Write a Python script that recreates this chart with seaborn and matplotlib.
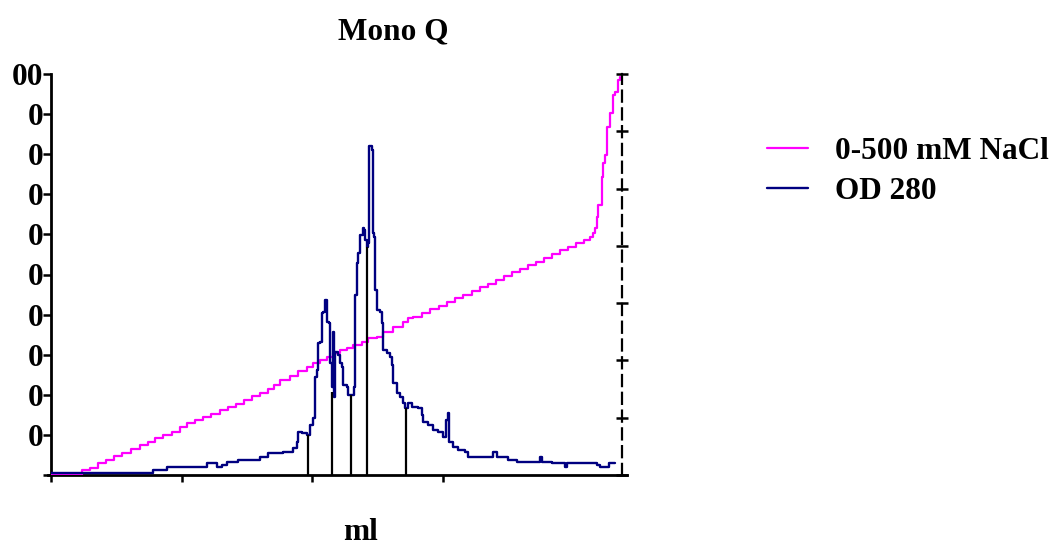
import matplotlib
matplotlib.use("Agg")
import matplotlib.pyplot as plt
import seaborn as sns
import pandas as pd

# ---- data (ml, percent of full scale) ----
nacl_ml = [0.00, 2.38, 2.99, 3.60, 4.21, 4.83, 5.44, 6.13, 6.82, 7.43, 7.97, 8.58, 9.27, 9.89,
           10.42, 11.03, 11.65, 12.26, 12.95, 13.56, 14.18, 14.79, 15.40, 16.02, 16.63, 17.09,
           17.55, 18.31, 18.93, 19.62, 20.08, 20.61, 21.15, 21.61, 22.15, 22.68, 23.14, 23.83,
           24.29, 24.98, 25.44, 26.21, 26.97, 27.36, 27.74, 28.43, 29.04, 29.73, 30.34, 30.96,
           31.57, 32.26, 32.87, 33.49, 34.10, 34.71, 35.33, 35.94, 36.55, 37.16, 37.78, 38.39,
           39.00, 39.62, 40.23, 40.84, 41.30, 41.53, 41.69, 41.84, 41.92, 42.22, 42.30, 42.45,
           42.61, 42.84, 43.07, 43.22, 43.45, 43.60]
nacl_val = [0.0, 1.2, 1.7, 3.0, 3.7, 4.7, 5.5, 6.5, 7.5, 8.2, 9.2, 10.0, 10.7, 12.0,
            13.0, 13.7, 14.5, 15.2, 16.2, 17.0, 17.7, 18.7, 19.7, 20.4, 21.4, 22.4,
            23.7, 24.7, 25.9, 26.9, 27.9, 28.7, 29.4, 30.4, 31.2, 31.7, 32.4, 33.2,
            34.2, 34.4, 35.7, 36.9, 38.2, 39.2, 39.4, 40.4, 41.4, 42.1, 43.1, 44.1,
            44.9, 45.9, 46.9, 47.6, 48.6, 49.6, 50.6, 51.4, 52.4, 53.1, 54.1, 55.1,
            56.1, 56.9, 57.9, 58.6, 59.4, 60.3, 61.6, 64.3, 67.3, 74.3, 77.8, 79.8,
            86.8, 90.3, 94.7, 95.5, 98.5, 99.3]

od_ml = [0.00, 7.82, 8.89, 11.95, 12.72, 13.10, 13.49, 14.33, 16.02, 16.63, 17.78, 18.54,
         18.85, 18.93, 19.23, 19.62, 19.85, 20.08, 20.23, 20.38, 20.46, 20.61, 20.77, 20.84,
         21.00, 21.15, 21.30, 21.38, 21.53, 21.61, 21.69, 21.76, 21.99, 22.15, 22.30, 22.38,
         22.68, 22.76, 23.22, 23.30, 23.45, 23.52, 23.68, 23.91, 23.98, 24.06, 24.21, 24.29,
         24.37, 24.60, 24.67, 24.75, 24.83, 24.98, 25.21, 25.36, 25.44, 25.75, 25.98, 26.13,
         26.21, 26.51, 26.74, 26.97, 27.13, 27.36, 27.66, 28.12, 28.43, 28.51, 28.89, 29.27,
         29.66, 30.04, 30.27, 30.42, 30.50, 30.80, 31.19, 31.72, 31.95, 33.87, 34.18, 35.02,
         35.71, 37.47, 37.62, 38.39, 39.39, 39.54, 41.84, 42.07, 42.76, 43.22]
od_val = [0.5, 1.2, 2.0, 3.0, 2.0, 2.5, 3.2, 3.7, 4.5, 5.5, 5.7, 6.7,
          8.2, 10.7, 10.5, 10.0, 12.5, 14.2, 24.4, 26.2, 32.9, 33.2, 40.4, 40.6,
          43.6, 38.2, 37.9, 27.9, 21.9, 35.7, 19.5, 30.7, 29.9, 27.9, 26.9, 22.4,
          21.9, 20.0, 21.9, 44.9, 52.9, 55.4, 59.9, 61.6, 61.1, 58.6, 56.9, 57.9,
          82.0, 81.0, 60.3, 59.4, 46.1, 41.1, 40.6, 37.9, 31.2, 30.4, 29.4, 27.4,
          22.9, 20.4, 19.5, 18.0, 16.7, 18.0, 17.0, 16.7, 15.0, 13.2, 12.5, 11.2,
          10.7, 9.5, 13.7, 15.5, 8.2, 7.0, 6.2, 5.7, 4.5, 5.7, 4.5, 3.7,
          3.2, 4.5, 3.2, 3.0, 2.0, 3.0, 2.5, 2.0, 3.0, 3.0]

frac_ml = [19.69, 21.53, 22.97, 24.21, 27.20]
frac_top = [10.0, 20.7, 20.0, 56.9, 16.7]

x_ticks = [0, 10, 20, 30]
y_ticks = [0, 10, 20, 30, 40, 50, 60, 70, 80, 90, 100]
y_labels = ["", "0", "0", "0", "0", "0", "0", "0", "0", "0", "00"]
right_ticks = [0, 1, 2, 3, 4, 5, 6, 7]

labels = ["0-500 mM NaCl", "OD 280"]
colors = ["#FF00FF", "#000080"]

sns.set_style("white")
plt.rcParams["font.family"] = ["Liberation Serif", "DejaVu Serif"]
plt.rcParams["font.weight"] = "bold"
for k in ["text.color", "axes.labelcolor", "xtick.color", "ytick.color", "axes.edgecolor"]:
    plt.rcParams[k] = "black"
FS = 22.5

fig = plt.figure(figsize=(10.55, 5.47), dpi=100)
ax = fig.add_axes([51 / 1055, 1 - 475 / 547, (622 - 51) / 1055, (475 - 74) / 547])

df_n = pd.DataFrame({"ml": nacl_ml, "v": nacl_val})
df_o = pd.DataFrame({"ml": od_ml, "v": od_val})
sns.lineplot(data=df_n, x="ml", y="v", ax=ax, color=colors[0], lw=1.6,
             drawstyle="steps-post", estimator=None, label=labels[0], zorder=3)
sns.lineplot(data=df_o, x="ml", y="v", ax=ax, color=colors[1], lw=1.7,
             drawstyle="steps-post", estimator=None, label=labels[1], zorder=4)
ax.vlines(frac_ml, 0, frac_top, color="black", lw=1.6, zorder=5)

ax.set_xlim(0, 43.75)
ax.set_ylim(0, 100)
ax.set_xticks(x_ticks)
ax.set_xticklabels([])
ax.set_yticks(y_ticks)
ax.set_yticklabels(y_labels, fontsize=FS, fontweight="bold", color="black")
ax.set_xlabel("")
ax.set_ylabel("")
ax.tick_params(axis="both", direction="out", length=5, width=1.8, color="black",
               labelcolor="black", pad=0, left=True, bottom=True)
ax.tick_params(axis="y", length=5.5)
for s in ["top", "right"]:
    ax.spines[s].set_visible(False)
for s in ["left", "bottom"]:
    ax.spines[s].set_color("black")
    ax.spines[s].set_linewidth(2.0)
ax.spines["bottom"].set_bounds(-0.2, 44.15)

ax2 = ax.twinx()
ax2.set_ylim(0, 7)
ax2.set_yticks(right_ticks)
ax2.set_yticklabels([])
ax2.tick_params(axis="y", direction="inout", length=9, width=1.8, color="black", right=True)
for s in ["top", "left", "bottom"]:
    ax2.spines[s].set_visible(False)
ax2.spines["right"].set_color("black")
ax2.spines["right"].set_linewidth(1.6)
ax2.spines["right"].set_linestyle((0, (5, 3)))

leg = ax.legend(loc="upper left", bbox_to_anchor=(767 / 1055, 1 - 137 / 547),
                bbox_transform=fig.transFigure, frameon=False, fontsize=FS,
                handlelength=1.32, handletextpad=0.87, labelspacing=0.36,
                borderpad=0, borderaxespad=0)
for t in leg.get_texts():
    t.set_fontweight("bold")
    t.set_color("black")

fig.text(393 / 1055, 1 - 32 / 547, "Mono Q", ha="center", va="center",
         fontsize=FS, fontweight="bold", color="black")
fig.text(360 / 1055, 1 - 533 / 547, "ml", ha="center", va="center",
         fontsize=FS, fontweight="bold", color="black")

fig.savefig("out.png", dpi=100)
